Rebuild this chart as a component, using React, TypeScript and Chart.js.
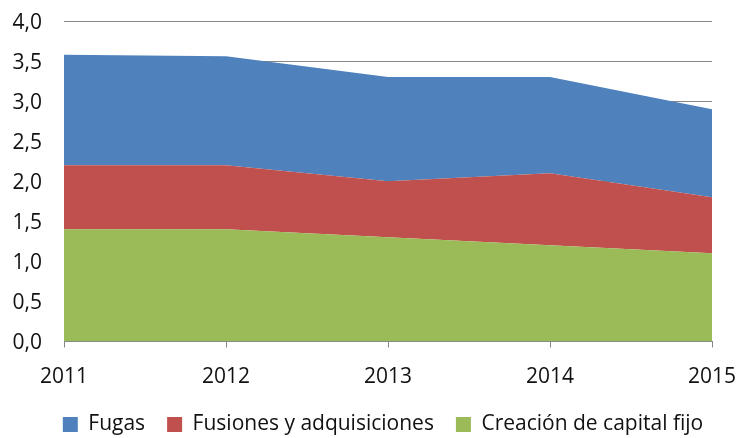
import React, { useEffect, useRef } from "react";
import { Chart, registerables } from "chart.js";

Chart.register(...registerables);

const years = ["2011", "2012", "2013", "2014", "2015"];
const creacion = [1.4, 1.4, 1.3, 1.2, 1.1];
const fusiones = [0.8, 0.8, 0.7, 0.9, 0.7];
const fugas = [1.38, 1.36, 1.3, 1.2, 1.1];
const yTicks = [0, 0.5, 1, 1.5, 2, 2.5, 3, 3.5, 4];

const FONT = "'Open Sans', 'DejaVu Sans', sans-serif";
const FS = 21;

const zeroPad = (s: any) => {
  s.paddingLeft = 0;
  s.paddingRight = 0;
  s.paddingTop = 0;
  s.paddingBottom = 0;
};

const legendShift = {
  id: "legendShift",
  afterLayout(chart: any) {
    if (chart.legend) {
      chart.legend.left += 27;
      chart.legend.right += 27;
    }
  },
};

export default function App() {
  const ref = useRef<HTMLCanvasElement | null>(null);
  useEffect(() => {
    document.body.style.margin = "0";
    if (!ref.current) return;
    const chart = new Chart(ref.current, {
      type: "line",
      data: {
        labels: years,
        datasets: [
          {
            label: "Creación de capital fijo",
            data: creacion,
            backgroundColor: "#9BBB59",
            borderColor: "#9BBB59",
            borderWidth: 0,
            fill: "origin",
            pointRadius: 0,
            tension: 0,
          },
          {
            label: "Fusiones y adquisiciones",
            data: fusiones,
            backgroundColor: "#C0504D",
            borderColor: "#C0504D",
            borderWidth: 0,
            fill: "-1",
            pointRadius: 0,
            tension: 0,
          },
          {
            label: "Fugas",
            data: fugas,
            backgroundColor: "#4F81BD",
            borderColor: "#4F81BD",
            borderWidth: 0,
            fill: "-1",
            pointRadius: 0,
            tension: 0,
          },
        ],
      },
      plugins: [legendShift],
      options: {
        animation: false,
        responsive: false,
        maintainAspectRatio: false,
        layout: {
          autoPadding: false,
          padding: { left: 0, right: 28, top: 21, bottom: -7 },
        },
        plugins: {
          tooltip: { enabled: false },
          legend: {
            position: "bottom",
            reverse: true,
            labels: {
              boxWidth: 15,
              boxHeight: 15,
              padding: 22,
              color: "#111",
              font: { family: FONT, size: FS },
            },
          },
        },
        scales: {
          x: {
            offset: false,
            grid: {
              display: true,
              drawOnChartArea: false,
              drawTicks: true,
              tickLength: 6,
              color: "#868686",
            },
            border: { display: true, color: "#868686", width: 1 },
            ticks: {
              color: "#111",
              padding: 17,
              maxRotation: 0,
              font: { family: FONT, size: FS },
            },
            afterFit: (s: any) => {
              s.height = 50.5;
              zeroPad(s);
            },
          },
          y: {
            stacked: true,
            min: 0,
            max: 4,
            afterBuildTicks: (s: any) => {
              s.ticks = yTicks.map((v) => ({ value: v }));
            },
            grid: { color: "#868686", drawTicks: false, lineWidth: 1 },
            border: { display: false },
            ticks: {
              color: "#111",
              padding: 22,
              labelOffset: 2,
              font: { family: FONT, size: FS },
              callback: (v: any) => Number(v).toFixed(1).replace(".", ","),
            },
            afterFit: (s: any) => {
              s.width = 64;
              zeroPad(s);
            },
          },
        },
      },
    });
    return () => chart.destroy();
  }, []);
  return (
    <div style={{ position: "fixed", left: 0, top: 0, width: 740, height: 438 }}>
      <canvas ref={ref} width={740} height={438} />
    </div>
  );
}
